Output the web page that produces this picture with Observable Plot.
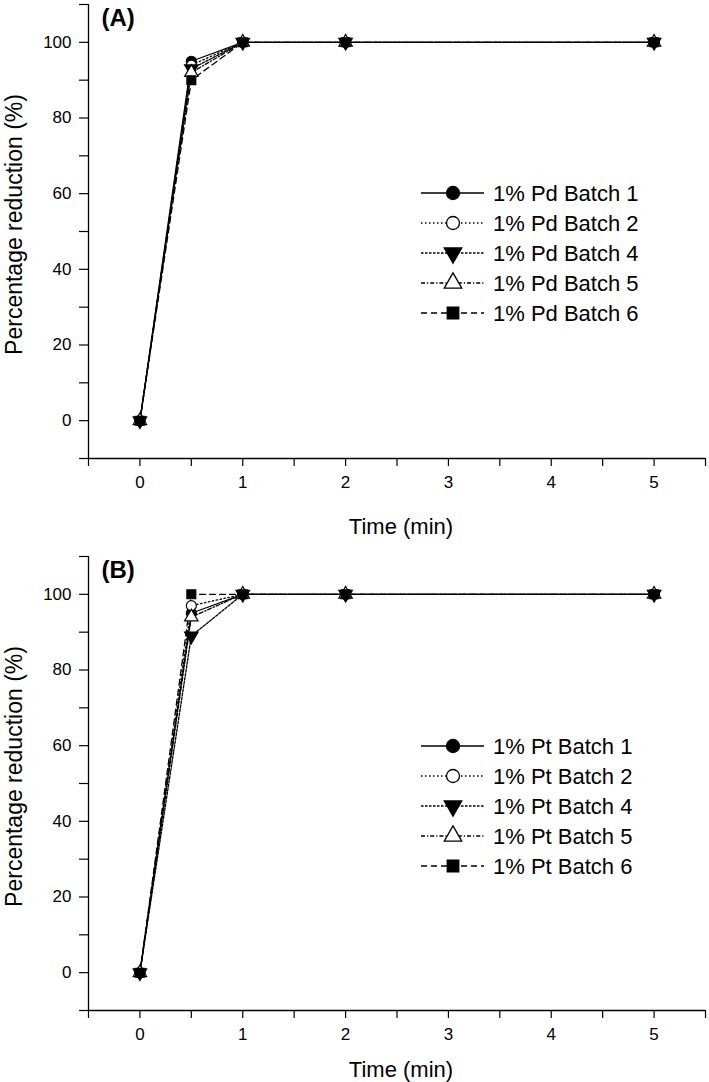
<!DOCTYPE html>
<html>
<head>
<meta charset="utf-8">
<script src="https://cdn.jsdelivr.net/npm/d3@7"></script>
<script src="https://cdn.jsdelivr.net/npm/@observablehq/plot@0.6"></script>
<style>
  html, body { margin: 0; padding: 0; background: #fff; }
  #wrap { width: 709px; }
  #wrap svg { display: block; }
</style>
</head>
<body>
<div id="wrap"></div>
<script>
// ---- data ----
const times = [0, 0.5, 1, 2, 5];

const pdNames = ["1% Pd Batch 1", "1% Pd Batch 2", "1% Pd Batch 4", "1% Pd Batch 5", "1% Pd Batch 6"];
const pdBatch1 = [0, 95, 100, 100, 100];
const pdBatch2 = [0, 94, 100, 100, 100];
const pdBatch4 = [0, 93, 100, 100, 100];
const pdBatch5 = [0, 92, 100, 100, 100];
const pdBatch6 = [0, 90, 100, 100, 100];

const ptNames = ["1% Pt Batch 1", "1% Pt Batch 2", "1% Pt Batch 4", "1% Pt Batch 5", "1% Pt Batch 6"];
const ptBatch1 = [0, 95, 100, 100, 100];
const ptBatch2 = [0, 97, 100, 100, 100];
const ptBatch4 = [0, 89, 100, 100, 100];
const ptBatch5 = [0, 94, 100, 100, 100];
const ptBatch6 = [0, 100, 100, 100, 100];

const xMajorTicks = [0, 1, 2, 3, 4, 5];
const xMinorTicks = [-0.5, 0.5, 1.5, 2.5, 3.5, 4.5, 5.5];
const yMajorTicks = [0, 20, 40, 60, 80, 100];
const yMinorTicks = [-10, 10, 30, 50, 70, 90, 110];

// ---- styles ----
const FONT = "'Liberation Sans', Arial, Helvetica, sans-serif";
const triDown = {
  draw(ctx, size) {
    const s3 = Math.sqrt(3);
    const y = -Math.sqrt(size / (s3 * 3));
    ctx.moveTo(0, -y * 2);
    ctx.lineTo(-s3 * y, y);
    ctx.lineTo(s3 * y, y);
    ctx.closePath();
  }
};
const styles = [
  {dash: null, symbol: "circle", fill: "black"},
  {dash: "1.5,2.5", symbol: "circle", fill: "white"},
  {dash: "2.5,1.5", symbol: triDown, fill: "black"},
  {dash: "4,2,1.2,2", symbol: "triangle", fill: "white"},
  {dash: "6,4", symbol: "square", fill: "black"}
];

function makePanel(panelLabel, names, seriesValues, opts) {
  const rows = [];
  seriesValues.forEach((vals, si) => {
    vals.forEach((v, i) => rows.push({series: names[si], idx: si, t: times[i], v}));
  });
  const marks = [
    Plot.ruleX([-0.5], {stroke: "black", strokeWidth: 1.3}),
    Plot.ruleY([-10], {stroke: "black", strokeWidth: 1.3}),
    Plot.axisX({ticks: xMajorTicks, tickSize: 8, tickPadding: 9, fontSize: 17, tickFormat: d3.format("d"), label: null, strokeWidth: 1.2}),
    Plot.axisX({ticks: xMinorTicks, tickSize: 8, tickFormat: () => "", label: null, strokeWidth: 1.2}),
    Plot.axisY({ticks: yMajorTicks, tickSize: 9, tickPadding: 8, fontSize: 17, tickFormat: d3.format("d"), label: null, strokeWidth: 1.2}),
    Plot.axisY({ticks: yMinorTicks, tickSize: 9, tickFormat: () => "", label: null, strokeWidth: 1.2}),
    Plot.text(["Time (min)"], {frameAnchor: "bottom", lineAnchor: "middle", dy: opts.xLabelDy, dx: 4, fontSize: 22, fontFamily: FONT}),
    Plot.text(["Percentage reduction (%)"], {frameAnchor: "left", textAnchor: "middle", lineAnchor: "middle", dx: -74, dy: opts.yLabelDy, rotate: -90, fontSize: 23, fontFamily: FONT}),
    Plot.text([panelLabel], {frameAnchor: "top-left", dx: 13, dy: 4, fontSize: 24, fontWeight: "bold", fontFamily: FONT})
  ];
  styles.forEach((st, si) => {
    const d = rows.filter(r => r.idx === si);
    marks.push(Plot.line(d, {x: "t", y: "v", stroke: "black", strokeWidth: 1.3, strokeDasharray: st.dash}));
  });
  styles.forEach((st, si) => {
    const d = rows.filter(r => r.idx === si);
    marks.push(Plot.dot(d, {x: "t", y: "v", symbol: st.symbol, r: 5, fill: st.fill, stroke: "black", strokeWidth: 1.2}));
  });
  const svg = Plot.plot({
    width: 709,
    height: opts.height,
    marginLeft: 88,
    marginRight: 4,
    marginTop: opts.marginTop,
    marginBottom: opts.marginBottom,
    style: {fontFamily: FONT, color: "black", background: "white"},
    x: {domain: [-0.5, 5.5]},
    y: {domain: [-10, 110]},
    marks
  });
  // legend
  const g = d3.select(svg).append("g").attr("font-family", FONT).attr("text-anchor", "start");
  names.forEach((name, si) => {
    const st = styles[si];
    const yy = opts.legendTop + si * 30;
    g.append("line").attr("x1", 421).attr("x2", 484).attr("y1", yy).attr("y2", yy)
      .attr("stroke", "black").attr("stroke-width", 1.3)
      .attr("stroke-dasharray", st.dash);
    const symType = st.symbol === "circle" ? d3.symbolCircle : st.symbol === "triangle" ? d3.symbolTriangle : st.symbol === "square" ? d3.symbolSquare : st.symbol;
    g.append("path").attr("d", d3.symbol(symType, Math.PI * 6.5 * 6.5)())
      .attr("transform", `translate(453,${yy})`)
      .attr("fill", st.fill).attr("stroke", "black").attr("stroke-width", 1.3);
    g.append("text").attr("x", 493).attr("y", yy).attr("dy", "0.36em")
      .attr("text-anchor", "start")
      .attr("font-size", 22).attr("fill", "black").text(name);
  });
  return svg;
}

const wrap = document.getElementById("wrap");
wrap.appendChild(makePanel("(A)", pdNames, [pdBatch1, pdBatch2, pdBatch4, pdBatch5, pdBatch6],
  {height: 553, marginTop: 4, marginBottom: 95, xLabelDy: 68, yLabelDy: -7, legendTop: 193}));
wrap.appendChild(makePanel("(B)", ptNames, [ptBatch1, ptBatch2, ptBatch4, ptBatch5, ptBatch6],
  {height: 529, marginTop: 3, marginBottom: 72, xLabelDy: 59, yLabelDy: -7, legendTop: 193}));
</script>
</body>
</html>
